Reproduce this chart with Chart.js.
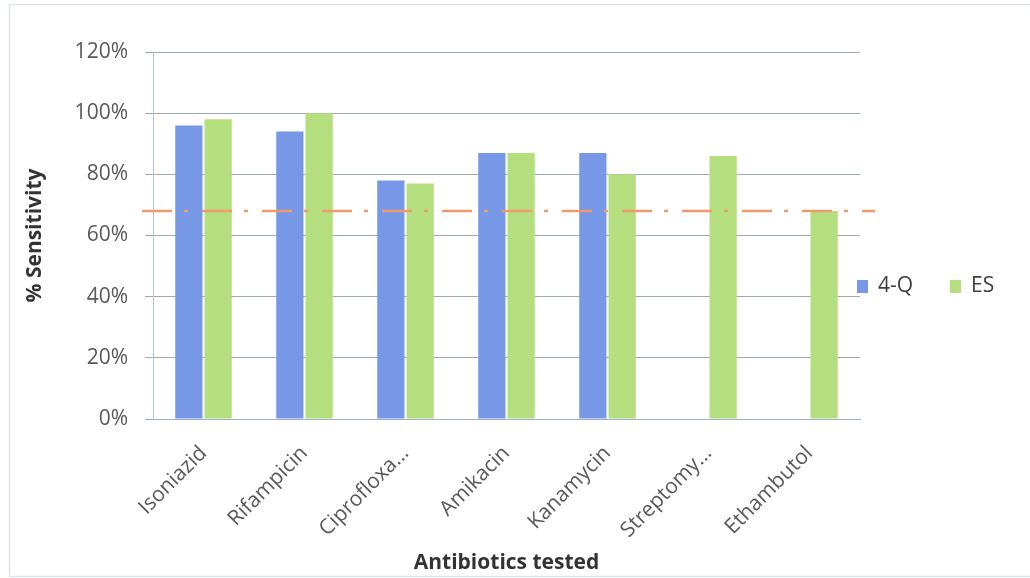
<!DOCTYPE html>
<html>
<head>
<meta charset="utf-8">
<script src="https://cdn.jsdelivr.net/npm/chart.js@4"></script>
<style>
  html, body { margin: 0; padding: 0; background: #ffffff; }
  #wrap { width: 1030px; height: 578px; position: relative; }
</style>
</head>
<body>
<div id="wrap"><canvas id="chart" width="1030" height="578"></canvas></div>
<script>
// Antibiotic sensitivity by method
const antibiotics = ['Isoniazid', 'Rifampicin', 'Ciprofloxa...', 'Amikacin', 'Kanamycin', 'Streptomy...', 'Ethambutol'];
const sens4Q = [96, 94, 78, 87, 87, null, null];
const sensES = [98, 100, 77, 87, 80, 86, 68];
const cutoff = 68;
const yTicks = [0, 20, 40, 60, 80, 100, 120];

const FONT = '"Open Sans", "Liberation Sans", sans-serif';
const BLUE = '#7698e6';
const GREEN = '#b5df7f';

// outer frame of the chart object
const framePlugin = {
  id: 'frame',
  beforeDraw(chart) {
    const c = chart.ctx;
    c.save();
    c.fillStyle = '#ffffff';
    c.fillRect(0, 0, chart.width, chart.height);
    c.strokeStyle = '#dfe5ec';
    c.lineWidth = 1.5;
    c.strokeRect(9.5, 4.5, chart.width, chart.height - 6);
    c.restore();
  }
};

// dash-dot reference line across the plot
const cutoffPlugin = {
  id: 'cutoff',
  afterDatasetsDraw(chart) {
    const y = chart.scales.y.getPixelForValue(cutoff);
    const a = chart.chartArea;
    const c = chart.ctx;
    c.save();
    c.strokeStyle = '#f09a6c';
    c.lineWidth = 2.5;
    c.setLineDash([30, 12, 4, 14]);
    c.beginPath();
    c.moveTo(a.left - 11, y);
    c.lineTo(a.right + 15, y);
    c.stroke();
    c.restore();
  }
};

// horizontal legend to the right of the plot
const legendPlugin = {
  id: 'sideLegend',
  afterDraw(chart) {
    const c = chart.ctx;
    const items = chart.data.datasets.map(d => ({ label: d.label, color: d.backgroundColor }));
    c.save();
    c.font = '21px ' + FONT;
    c.textBaseline = 'middle';
    let x = 857;
    const y = 286;
    items.forEach(it => {
      c.fillStyle = it.color;
      c.fillRect(x, y - 6, 11, 13);
      c.fillStyle = '#404040';
      c.fillText(it.label, x + 21, y);
      x += 93;
    });
    c.restore();
  }
};

new Chart(document.getElementById('chart'), {
  type: 'bar',
  data: {
    labels: antibiotics,
    datasets: [
      { label: '4-Q', data: sens4Q, backgroundColor: BLUE, barPercentage: 0.93, categoryPercentage: 0.58 },
      { label: 'ES', data: sensES, backgroundColor: GREEN, barPercentage: 0.93, categoryPercentage: 0.58 }
    ]
  },
  options: {
    responsive: false,
    animation: false,
    events: [],
    layout: { padding: { left: 0, top: 52, right: 170, bottom: 0 } },
    plugins: {
      legend: { display: false },
      tooltip: { enabled: false }
    },
    scales: {
      x: {
        grid: { display: false, drawTicks: false },
        border: { display: true, color: '#9fb0c2', width: 1 },
        ticks: {
          minRotation: 45, maxRotation: 45, padding: 22,
          color: '#595959', font: { family: FONT, size: 21 }
        },
        title: {
          display: true, text: 'Antibiotics tested', color: '#333333',
          font: { family: FONT, size: 21, weight: 'bold' },
          padding: { top: 0, bottom: 2 }
        },
        afterFit(scale) { scale.height = 159; }
      },
      y: {
        min: 0, max: 120,
        afterBuildTicks(scale) { scale.ticks = yTicks.map(v => ({ value: v })); },
        grid: { color: '#9aaabb', lineWidth: 1, tickLength: 8, drawTicks: true },
        border: { display: true, color: '#b4c2d4', width: 1 },
        ticks: {
          padding: 17, color: '#595959',
          font: { family: FONT, size: 21 },
          callback: v => v + '%'
        },
        title: {
          display: true, text: '% Sensitivity', color: '#333333',
          font: { family: FONT, size: 21, weight: 'bold' },
          padding: { top: 22, bottom: 0 }
        },
        afterFit(scale) { scale.width = 153; }
      }
    }
  },
  plugins: [framePlugin, cutoffPlugin, legendPlugin]
});
</script>
</body>
</html>
